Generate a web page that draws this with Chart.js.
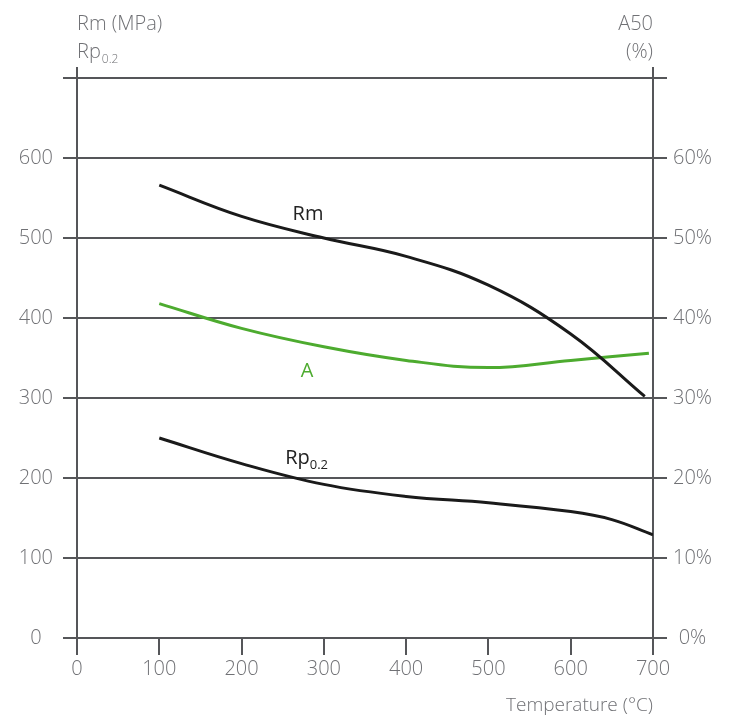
<!DOCTYPE html>
<html>
<head>
<title>Rm, Rp0.2, A50 vs temperature</title>
<style>
  body { margin: 0; background: #fff; }
  .chart-container {
    position: relative;
    width: 731px;
    height: 716px;
  }
</style>
</head>
<body>
<div class="chart-container">
<canvas id="mycanvas" width="731" height="716"></canvas>
</div>

<script src="https://cdn.jsdelivr.net/npm/chart.js@4.4.1/dist/chart.umd.min.js"></script>
<script>
// data
var rmTemp = [100, 200, 300, 400, 500, 600, 690];
var rmVal  = [566, 527, 500, 477, 441, 380, 302];

var rpTemp = [100, 200, 300, 400, 500, 600, 650, 700];
var rpVal  = [250, 218, 192, 177, 169, 158, 148, 129];

var aTemp = [100, 200, 300, 400, 500, 600, 695];
var aVal  = [41.8, 38.7, 36.4, 34.7, 33.8, 34.7, 35.6];

var xTicks = [0, 100, 200, 300, 400, 500, 600, 700];

var axisColor = "#555659";
var textColor = "#707175";
var green = "#4dab2f";
var font = "'Open Sans', 'DejaVu Sans', sans-serif";

function pts(xs, ys) {
  var out = [];
  for (var i in xs) out.push({x: xs[i], y: ys[i]});
  return out;
}

var extras = {
  id: "extras",
  afterDraw: function(chart) {
    var ctx = chart.ctx;
    var x = chart.scales.x, y = chart.scales.y;
    var area = chart.chartArea;
    ctx.save();

    // axis lines poke out above the top gridline
    ctx.strokeStyle = axisColor;
    ctx.lineWidth = 2;
    [0, 700].forEach(function(v) {
      var px = x.getPixelForValue(v);
      ctx.beginPath();
      ctx.moveTo(px, area.top - 11);
      ctx.lineTo(px, area.top);
      ctx.stroke();
    });

    // axis titles
    ctx.fillStyle = textColor;
    ctx.textBaseline = "alphabetic";
    ctx.font = "300 20px " + font;
    ctx.textAlign = "left";
    ctx.fillText("Rm (MPa)", area.left, 30);
    ctx.fillText("Rp", area.left, 58);
    var w = ctx.measureText("Rp").width;
    ctx.font = "300 12px " + font;
    ctx.fillText("0.2", area.left + w + 1, 63);

    ctx.font = "300 20px " + font;
    ctx.textAlign = "right";
    ctx.fillText("A50", area.right, 30);
    ctx.fillText("(%)", area.right, 58);

    ctx.font = "300 19px " + font;
    ctx.fillText("Temperature (\u00b0C)", area.right, 711);

    // series labels
    ctx.textAlign = "left";
    ctx.fillStyle = "#222";
    ctx.font = "20px " + font;
    ctx.fillText("Rm", x.getPixelForValue(262), y.getPixelForValue(523));
    ctx.fillText("Rp", x.getPixelForValue(253), y.getPixelForValue(218));
    w = ctx.measureText("Rp").width;
    ctx.font = "13px " + font;
    ctx.fillText("0.2", x.getPixelForValue(253) + w, y.getPixelForValue(211));

    ctx.fillStyle = green;
    ctx.font = "20px " + font;
    ctx.fillText("A", x.getPixelForValue(272), y.getPixelForValue(326));
    ctx.restore();
  }
};

var ctx = document.getElementById("mycanvas");

var chart = new Chart(ctx, {
  type: "line",
  data: {
    datasets: [
      {
        label: "Rm",
        data: pts(rmTemp, rmVal),
        borderColor: "#1a1a1a",
        borderWidth: 3,
        pointRadius: 0,
        fill: false,
        tension: 0.4,
        yAxisID: "y"
      },
      {
        label: "Rp0.2",
        data: pts(rpTemp, rpVal),
        borderColor: "#1a1a1a",
        borderWidth: 3,
        pointRadius: 0,
        fill: false,
        tension: 0.4,
        yAxisID: "y"
      },
      {
        label: "A",
        data: pts(aTemp, aVal),
        borderColor: green,
        borderWidth: 3,
        pointRadius: 0,
        fill: false,
        tension: 0.4,
        yAxisID: "y1"
      }
    ]
  },
  options: {
    responsive: false,
    animation: false,
    layout: { padding: { top: 78, left: 0, right: 0, bottom: 0 } },
    plugins: {
      legend: { display: false },
      tooltip: { enabled: false }
    },
    scales: {
      x: {
        type: "linear",
        min: 0,
        max: 700,
        afterBuildTicks: function(s) { s.ticks = xTicks.map(function(v) { return {value: v}; }); },
        afterFit: function(s) { s.height = 78; },
        border: { display: false },
        grid: {
          color: function(c) { return (c.tick && (c.tick.value === 0 || c.tick.value === 700)) ? axisColor : "rgba(0,0,0,0)"; },
          tickColor: axisColor,
          lineWidth: 2,
          tickLength: 17
        },
        ticks: {
          color: textColor,
          padding: 2,
          maxRotation: 0,
          autoSkip: false,
          font: { family: font, size: 20, weight: 300 }
        }
      },
      y: {
        position: "left",
        min: 0,
        max: 700,
        afterFit: function(s) { s.width = 77; },
        border: { display: false },
        grid: { color: axisColor, tickColor: axisColor, lineWidth: 2, tickLength: 14 },
        ticks: {
          stepSize: 100,
          color: textColor,
          padding: 10,
          crossAlign: "center",
          font: { family: font, size: 20, weight: 300 },
          callback: function(v) { return v === 700 ? "" : v; }
        }
      },
      y1: {
        position: "right",
        min: 0,
        max: 70,
        afterFit: function(s) { s.width = 78; },
        border: { display: false },
        grid: { drawOnChartArea: false, tickColor: axisColor, lineWidth: 2, tickLength: 14 },
        ticks: {
          stepSize: 10,
          color: textColor,
          padding: 6,
          crossAlign: "center",
          font: { family: font, size: 20, weight: 300 },
          callback: function(v) { return v === 70 ? "" : v + "%"; }
        }
      }
    }
  },
  plugins: [extras]
});
</script>
</body>
</html>
